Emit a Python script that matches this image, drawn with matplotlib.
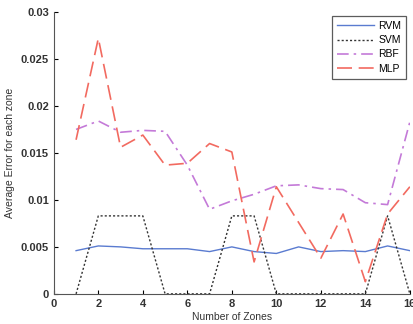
import matplotlib
matplotlib.use("Agg")
from matplotlib import pylab as plt

zones = list(range(1, 17))
rvm = [0.0046, 0.0051, 0.0050, 0.0048, 0.0048, 0.0048, 0.0045, 0.0050,
       0.0045, 0.0043, 0.0050, 0.0045, 0.0046, 0.0045, 0.0051, 0.0046]
svm = [0.0, 0.0083, 0.0083, 0.0083, 0.0, 0.0, 0.0, 0.0083,
       0.0083, 0.0, 0.0, 0.0, 0.0, 0.0, 0.0083, 0.0]
rbf = [0.0175, 0.0184, 0.0172, 0.0174, 0.0173, 0.0137, 0.0090, 0.0099,
       0.0106, 0.0115, 0.0116, 0.0112, 0.0111, 0.0097, 0.0095, 0.0183]
mlp = [0.0164, 0.0272, 0.0156, 0.0169, 0.0137, 0.0139, 0.0160, 0.0151,
       0.0034, 0.0114, 0.0076, 0.0038, 0.0085, 0.0013, 0.0085, 0.0114]

plt.rcParams["font.family"] = ["Liberation Sans", "DejaVu Sans"]

fig = plt.figure(figsize=(4.14, 3.24), dpi=100)
ax = fig.add_axes([0.13, 0.093, 0.86, 0.87])

ax.plot(zones, rvm, color="#5a7bd0", lw=1.0, label="RVM")
ax.plot(zones, svm, color="#333333", lw=1.0, ls=(0, (1.5, 1.5)), label="SVM")
ax.plot(zones, rbf, color="#c47ad8", lw=1.2, ls=(0, (7, 3, 1.5, 3)), label="RBF")
ax.plot(zones, mlp, color="#f26a60", lw=1.2, ls=(0, (9, 4)), label="MLP")

ax.set_xlim(0, 16)
ax.set_ylim(0, 0.03)
ax.set_xticks(range(0, 17, 2))
ax.set_yticks([0, 0.005, 0.01, 0.015, 0.02, 0.025, 0.03])
ax.set_yticklabels(["0", "0.005", "0.01", "0.015", "0.02", "0.025", "0.03"])
ax.tick_params(labelsize=8, length=3, direction="in")
for lab in ax.get_xticklabels() + ax.get_yticklabels():
    lab.set_fontweight("bold")
    lab.set_color("#333333")
ax.spines["top"].set_visible(False)
ax.spines["right"].set_visible(False)
ax.spines["left"].set_color("#555555")
ax.spines["bottom"].set_color("#555555")

ax.set_xlabel("Number of Zones", fontsize=7.5, labelpad=2, color="#333333")
ax.set_ylabel("Average Error for each zone", fontsize=7.5, labelpad=4, color="#333333")

leg = ax.legend(loc="upper right", bbox_to_anchor=(0.99, 0.986), borderaxespad=0,
                fontsize=7.5, fancybox=False, edgecolor="#333333", handlelength=3.5,
                borderpad=0.5, labelspacing=0.4, handletextpad=0.4)
leg.get_frame().set_linewidth(0.9)

plt.savefig("out.png", dpi=100)
